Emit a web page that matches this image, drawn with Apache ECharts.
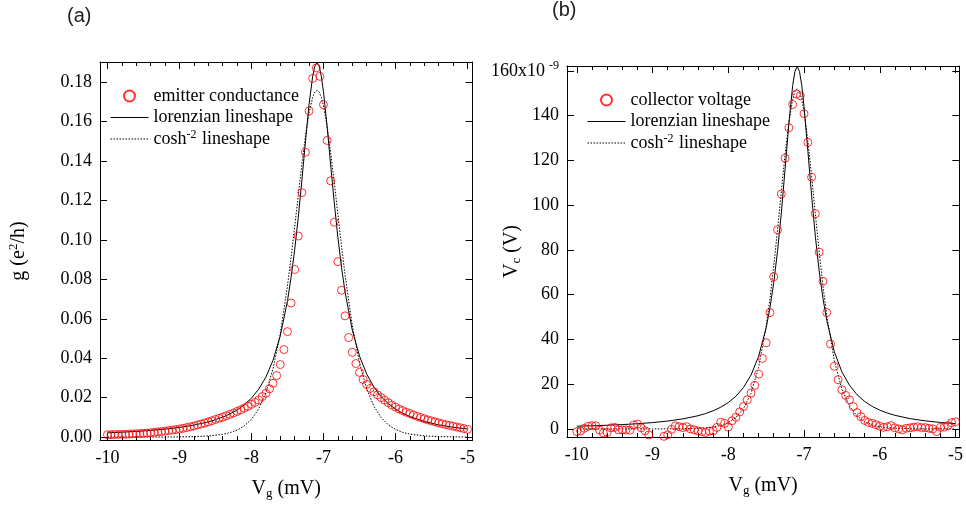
<!DOCTYPE html>
<html>
<head>
<meta charset="utf-8">
<script src="https://cdn.jsdelivr.net/npm/echarts@6/dist/echarts.min.js"></script>
<style>
  html, body { margin: 0; padding: 0; background: #fff; }
  #chart { width: 966px; height: 510px; }
</style>
</head>
<body>
<div id="chart"></div>
<script>
// gate voltage of the measured points (mV)
const vg = [
  -10.00, -9.95, -9.90, -9.85, -9.80, -9.75, -9.70, -9.65, -9.60, -9.55,
  -9.50, -9.45, -9.40, -9.35, -9.30, -9.25, -9.20, -9.15, -9.10, -9.05,
  -9.00, -8.95, -8.90, -8.85, -8.80, -8.75, -8.70, -8.65, -8.60, -8.55,
  -8.50, -8.45, -8.40, -8.35, -8.30, -8.25, -8.20, -8.15, -8.10, -8.05,
  -8.00, -7.95, -7.90, -7.85, -7.80, -7.75, -7.70, -7.65, -7.60, -7.55,
  -7.50, -7.45, -7.40, -7.35, -7.30, -7.25, -7.20, -7.15, -7.10, -7.05,
  -7.00, -6.95, -6.90, -6.85, -6.80, -6.75, -6.70, -6.65, -6.60, -6.55,
  -6.50, -6.45, -6.40, -6.35, -6.30, -6.25, -6.20, -6.15, -6.10, -6.05,
  -6.00, -5.95, -5.90, -5.85, -5.80, -5.75, -5.70, -5.65, -5.60, -5.55,
  -5.50, -5.45, -5.40, -5.35, -5.30, -5.25, -5.20, -5.15, -5.10, -5.05,
  -5.00
];

// (a) emitter conductance, e^2/h
const emitterG = [
  0.0012, 0.0012, 0.0013, 0.0013, 0.0014, 0.0014, 0.0015, 0.0016, 0.0017, 0.0018,
  0.0019, 0.0020, 0.0022, 0.0024, 0.0026, 0.0028, 0.0030, 0.0033, 0.0035, 0.0038,
  0.0041, 0.0044, 0.0048, 0.0052, 0.0056, 0.0061, 0.0066, 0.0071, 0.0077, 0.0083,
  0.0089, 0.0095, 0.0101, 0.0108, 0.0115, 0.0122, 0.0130, 0.0138, 0.0147, 0.0156,
  0.0166, 0.0176, 0.0188, 0.0205, 0.0222, 0.0245, 0.0273, 0.0312, 0.0368, 0.0444,
  0.0535, 0.0680, 0.0850, 0.1020, 0.1240, 0.1445, 0.1655, 0.1820, 0.1873, 0.1830,
  0.1686, 0.1505, 0.1300, 0.1090, 0.0890, 0.0745, 0.0615, 0.0505, 0.0430, 0.0373,
  0.0328, 0.0292, 0.0267, 0.0247, 0.0230, 0.0214, 0.0200, 0.0187, 0.0174, 0.0162,
  0.0152, 0.0142, 0.0134, 0.0126, 0.0119, 0.0112, 0.0105, 0.0099, 0.0093, 0.0087,
  0.0082, 0.0077, 0.0072, 0.0067, 0.0063, 0.0059, 0.0055, 0.0051, 0.0047, 0.0043,
  0.0039
];

// (b) collector voltage, units of 1e-9 V
const collectorV = [
  -1.2, -0.9, 0.3, 1.2, 1.5, 1.4, -0.5, -1.8, -1.6, 0.5,
  0.7, -0.4, -0.4, -0.4, -0.6, 1.8, 2.2, 0.5, -0.8, -2.7,
  -3.7, -3.9, -3.8, -3.3, -2.6, -0.2, 1.4, 1.0, 0.6, 1.0,
  0.0, -0.4, -0.9, -1.2, -1.6, -1.0, -0.8, 0.7, 3.0, 2.5,
  0.8, 3.7, 5.2, 7.6, 10.0, 13.0, 16.0, 19.5, 24.5, 31.5,
  38.5, 52, 68, 89, 105, 121, 134.6, 145, 149.7, 148.9,
  140.9, 128.1, 112.5, 96.2, 79, 66, 52, 38, 28, 22,
  17.5, 15, 13, 10, 7.3, 5.5, 3.8, 2.9, 2.5, 1.9,
  1.2, 0.7, 1.0, 1.5, 0.5, 0.0, -0.4, 0.3, 0.5, 0.8,
  1.0, 0.6, 0.6, 0.3, 0.0, -1.2, 0.7, 0.8, 1.5, 2.8,
  3.2
];

// gate voltage where the fitted lineshapes are drawn
const fitVg = [
  -10, -9.8, -9.6, -9.4, -9.2, -9.0, -8.8, -8.6, -8.4, -8.3,
  -8.2, -8.1, -8.0, -7.9, -7.8, -7.7, -7.6, -7.5, -7.45, -7.4,
  -7.35, -7.3, -7.25, -7.2, -7.15, -7.12, -7.09, -7.06, -7.03, -7.0,
  -6.95, -6.9, -6.85, -6.8, -6.75, -6.7, -6.6, -6.5, -6.4, -6.3,
  -6.2, -6.1, -6.0, -5.9, -5.8, -5.6, -5.4, -5.2, -5.0
];

const lorentzA = [
  0.00213, 0.00245, 0.00285, 0.00336, 0.00401, 0.00488, 0.00605, 0.00768, 0.01008, 0.0117,
  0.0137, 0.01636, 0.01976, 0.0243, 0.0304, 0.0390, 0.0513, 0.0691, 0.0809, 0.0950,
  0.1115, 0.1302, 0.1500, 0.1688, 0.1831, 0.1882, 0.1900, 0.1882, 0.1831, 0.1752,
  0.1578, 0.1381, 0.1188, 0.1014, 0.0862, 0.0736, 0.0543, 0.0411, 0.0320, 0.0254,
  0.0205, 0.0170, 0.0142, 0.01207, 0.01037, 0.00789, 0.00619, 0.00498, 0.00409
];
const coshA = [
  0, 0, 0, 0.00001, 0.00003, 0.00008, 0.0002, 0.00053, 0.00137, 0.0022,
  0.00353, 0.00564, 0.0090, 0.0143, 0.0224, 0.0347, 0.0524, 0.0767, 0.0911, 0.1066,
  0.1226, 0.1384, 0.1528, 0.1645, 0.1724, 0.1751, 0.1760, 0.1751, 0.1724, 0.1682,
  0.1578, 0.1443, 0.1291, 0.1131, 0.0971, 0.0822, 0.0567, 0.0377, 0.0245, 0.0156,
  0.0099, 0.0062, 0.0039, 0.0024, 0.0015, 0.0006, 0.0002, 0.0001, 0
];
const lorentzB = [
  1.23, 1.42, 1.65, 1.95, 2.33, 2.84, 3.52, 4.49, 5.91, 6.89,
  8.12, 9.71, 11.79, 14.6, 18.5, 24.1, 32.4, 45.2, 54.1, 65.4,
  79.4, 96.5, 116.2, 136.6, 153.5, 159.8, 162, 159.8, 153.5, 144.1,
  124.5, 104.2, 85.9, 70.6, 58.3, 48.5, 34.5, 25.5, 19.5, 15.3,
  12.3, 10.07, 8.40, 7.11, 6.09, 4.60, 3.61, 2.90, 2.37
];
const coshB = [
  0, 0, 0, 0, 0, 0, 0.03, 0.09, 0.27, 0.49,
  0.88, 1.59, 2.85, 5.1, 9.05, 15.9, 27.5, 45.9, 58.3, 72.8,
  88.9, 106.1, 122.7, 137.1, 147.4, 150.8, 152, 150.8, 147.4, 141.8,
  128.9, 112.9, 95.8, 79.1, 63.8, 50.6, 30.5, 17.8, 10.2, 5.72,
  3.2, 1.79, 0.99, 0.55, 0.31, 0.1, 0.03, 0.01, 0
];

const serif = "'Liberation Serif', 'DejaVu Serif', serif";
const pairs = (xs, ys) => xs.map((x, i) => [x, ys[i]]);

const nameRich = {
  a: { fontFamily: serif, fontSize: 20, color: "#000" },
  s: { fontFamily: serif, fontSize: 13, color: "#000", padding: [0, 0, 10, 0] },
  b: { fontFamily: serif, fontSize: 13, color: "#000", padding: [9, 0, 0, 0] },
};

function xAxes(gridIndex, min, max) {
  const common = {
    type: "value",
    gridIndex: gridIndex,
    min: min,
    max: max,
    splitLine: { show: false },
    axisLine: { onZero: false, lineStyle: { color: "#000", width: 1 } },
    axisTick: { inside: true, length: 7, lineStyle: { color: "#000" } },
    minorTick: { show: true, splitNumber: 5, length: 4, lineStyle: { color: "#000" } },
  };
  return [
    Object.assign({}, common, {
      position: "bottom",
      axisLabel: {
        fontFamily: serif, fontSize: 18, color: "#000", margin: 9,
        showMinLabel: false, showMaxLabel: false,
      },
      name: "{a|V}{b|g}{a| (mV)}",
      nameLocation: "middle",
      nameGap: 38,
      nameMoveOverlap: false,
      nameTextStyle: { rich: nameRich },
    }),
    Object.assign({}, common, { position: "top", axisLabel: { show: false } }),
  ];
}

function yAxes(gridIndex, min, max, splitNumber, fmt, name, nameGap) {
  const common = {
    type: "value",
    gridIndex: gridIndex,
    min: min,
    max: max,
    splitNumber: splitNumber,
    splitLine: { show: false },
    axisLine: { onZero: false, lineStyle: { color: "#000", width: 1 } },
    axisTick: { inside: true, length: 7, lineStyle: { color: "#000" } },
  };
  return [
    Object.assign({}, common, {
      position: "left",
      axisLabel: {
        fontFamily: serif, fontSize: 18, color: "#000", margin: 8,
        showMinLabel: false, showMaxLabel: false,
        formatter: fmt,
        rich: {
          n: { fontFamily: serif, fontSize: 18, color: "#000" },
          s: { fontFamily: serif, fontSize: 12, color: "#000", padding: [0, 0, 10, 4] },
        },
      },
      name: name,
      nameLocation: "middle",
      nameRotate: 90,
      nameGap: nameGap,
      nameMoveOverlap: false,
      nameTextStyle: { rich: nameRich },
    }),
    Object.assign({}, common, { position: "right", axisLabel: { show: false } }),
  ];
}

const dots = [1.5, 1.5];
const scatterStyle = { color: "rgba(0,0,0,0)", borderColor: "#ff0000", borderWidth: 1 };
const solidStyle = { color: "#000", width: 1 };
const dottedStyle = { color: "#000", width: 1, type: dots };
// transparent item colour so the legend shows only the line, no dot
const noDot = { color: "rgba(0,0,0,0)", borderWidth: 0 };

const legendText = {
  fontFamily: serif, fontSize: 18, color: "#000", lineHeight: 21,
  rich: {
    t: { fontFamily: serif, fontSize: 18, lineHeight: 21, color: "#000" },
    s: { fontFamily: serif, fontSize: 12, lineHeight: 12, color: "#000", padding: [0, 1, 9, 0] },
  },
};
const legendFmt = (name) =>
  name === "cosh-2 lineshape" ? "{t|cosh}{s|-2}{t| lineshape}" : "{t|" + name + "}";
const legendItems = (first) => [
  first,
  { name: "lorenzian lineshape", lineStyle: { width: 1, color: "#000", type: "solid" } },
  { name: "cosh-2 lineshape", lineStyle: { width: 1, color: "#000", type: dots } },
];

const titleFont = { fontFamily: "'Liberation Sans', Arial", fontSize: 20, fontWeight: "normal", color: "#222" };

const option = {
  animation: false,
  backgroundColor: "#fff",
  title: [
    { text: "(a)", left: 67, top: 6, padding: 0, textStyle: titleFont },
    { text: "(b)", left: 552, top: 0, padding: 0, textStyle: titleFont },
  ],
  grid: [
    { left: 100, top: 62, right: 493.5, bottom: 70 },
    { left: 567, top: 66, right: 4, bottom: 73 },
  ],
  legend: [
    {
      orient: "vertical", left: 110, top: 85.5, padding: 0, itemWidth: 38, itemHeight: 11, itemGap: 0.5,
      data: legendItems("emitter conductance"),
      textStyle: legendText, formatter: legendFmt, selectedMode: false,
      lineStyle: { width: 1 },
    },
    {
      orient: "vertical", left: 587, top: 89.5, padding: 0, itemWidth: 38, itemHeight: 11, itemGap: 0.5,
      data: legendItems("collector voltage"),
      textStyle: legendText, formatter: legendFmt, selectedMode: false,
      lineStyle: { width: 1 },
    },
  ],
  xAxis: [].concat(xAxes(0, -10.104, -4.93), xAxes(1, -10.13, -4.95)),
  yAxis: [].concat(
    yAxes(0, -0.0015, 0.1903, 10, (v) => v.toFixed(2), "{a|g (e}{s|2}{a|/h)}", 70),
    yAxes(1, -3.6, 162.2, 8, (v) => {
      const r = Math.round(v);
      return r === 160 ? "{n|160x10}{s|-9}" : "{n|" + r + "}";
    }, "{a|V}{b|c}{a| (V)}", 44)
  ),
  series: [
    { name: "lorenzian lineshape", type: "line", xAxisIndex: 0, yAxisIndex: 0,
      data: pairs(fitVg, lorentzA), symbol: "none", lineStyle: solidStyle, itemStyle: noDot, z: 2 },
    { name: "cosh-2 lineshape", type: "line", xAxisIndex: 0, yAxisIndex: 0,
      data: pairs(fitVg, coshA), symbol: "none", lineStyle: dottedStyle, itemStyle: noDot, z: 2 },
    { name: "emitter conductance", type: "scatter", xAxisIndex: 0, yAxisIndex: 0,
      data: pairs(vg, emitterG), symbol: "circle", symbolSize: 8, itemStyle: scatterStyle, z: 3 },
    { name: "lorenzian lineshape", type: "line", xAxisIndex: 2, yAxisIndex: 2,
      data: pairs(fitVg, lorentzB), symbol: "none", lineStyle: solidStyle, itemStyle: noDot, z: 2 },
    { name: "cosh-2 lineshape", type: "line", xAxisIndex: 2, yAxisIndex: 2,
      data: pairs(fitVg, coshB), symbol: "none", lineStyle: dottedStyle, itemStyle: noDot, z: 2 },
    { name: "collector voltage", type: "scatter", xAxisIndex: 2, yAxisIndex: 2,
      data: pairs(vg, collectorV), symbol: "circle", symbolSize: 8, itemStyle: scatterStyle, z: 3 },
  ],
};

const chart = echarts.init(document.getElementById("chart"));
chart.setOption(option);
</script>
</body>
</html>
